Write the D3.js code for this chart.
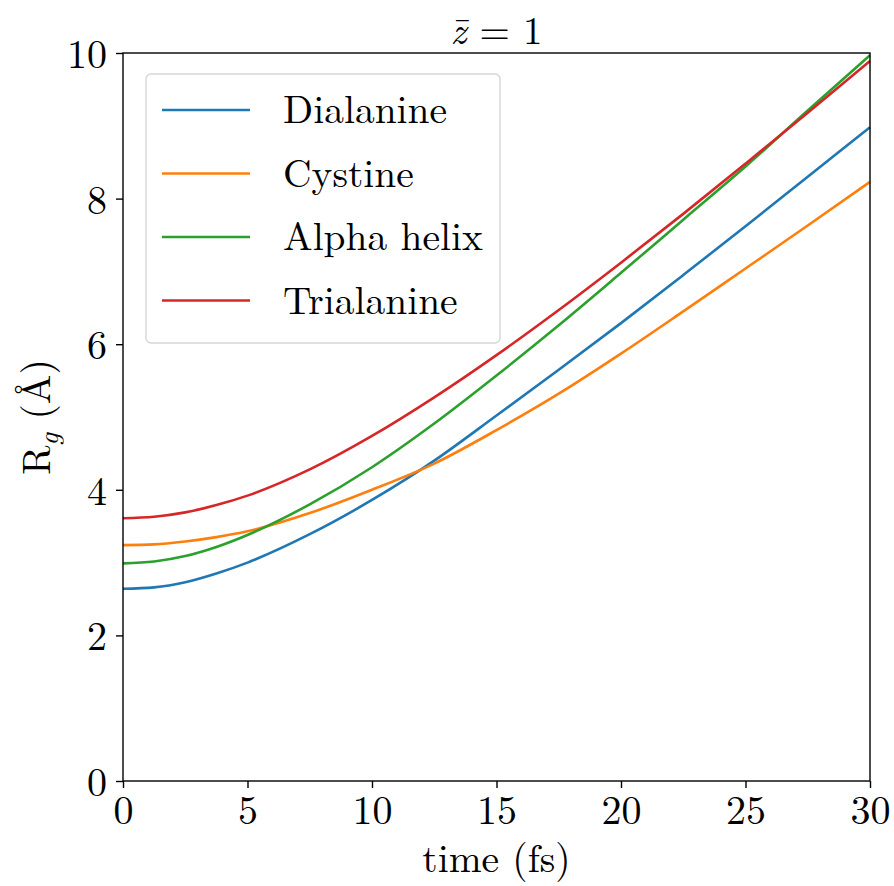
<!DOCTYPE html>
<html>
<head>
<meta charset="utf-8">
<script src="https://cdn.jsdelivr.net/npm/d3@7"></script>
<style>
  body { margin: 0; background: #fff; }
</style>
</head>
<body>
<svg id="chart" width="894" height="886"></svg>
<script>
// Values (time in fs, Rg in Angstrom)
const times = [0, 1.25, 2.5, 3.75, 5, 7.5, 10, 12.5, 15, 17.5, 20, 22.5, 25, 27.5, 30];
const dialanine = [2.64, 2.66, 2.73, 2.85, 3.0, 3.39, 3.86, 4.40, 5.02, 5.65, 6.29, 6.95, 7.62, 8.30, 8.98];
const cystine = [3.24, 3.25, 3.29, 3.35, 3.43, 3.68, 4.0, 4.36, 4.82, 5.32, 5.87, 6.45, 7.04, 7.63, 8.23];
const alphaHelix = [2.99, 3.015, 3.09, 3.215, 3.38, 3.80, 4.31, 4.91, 5.57, 6.26, 6.98, 7.71, 8.44, 9.21, 9.97];
const trialanine = [3.61, 3.63, 3.69, 3.79, 3.92, 4.28, 4.74, 5.27, 5.85, 6.47, 7.12, 7.79, 8.48, 9.18, 9.89];

const seriesNames = ["Dialanine", "Cystine", "Alpha helix", "Trialanine"];
const seriesColors = ["#1f77b4", "#ff7f0e", "#2ca02c", "#d62728"];
const seriesValues = [dialanine, cystine, alphaHelix, trialanine];

const xTicks = [0, 5, 10, 15, 20, 25, 30];
const yTicks = [0, 2, 4, 6, 8, 10];

// Layout
const margin = { left: 123, right: 24, top: 53, bottom: 105 };
const width = 894, height = 886;
const FONT_SIZE = 40;
const LEGEND_SIZE = 39.5;
const SERIF = '"Latin Modern Roman", "CMU Serif", "Liberation Serif", "DejaVu Serif", serif';

const svg = d3.select("#chart").style("font-family", SERIF);

const x = d3.scaleLinear().domain([0, 30]).range([margin.left, width - margin.right]);
const y = d3.scaleLinear().domain([0, 10]).range([height - margin.bottom, margin.top]);

// Lines
const line = d3.line()
  .x((d) => x(d[0]))
  .y((d) => y(d[1]))
  .curve(d3.curveMonotoneX);

seriesValues.forEach((vals, i) => {
  svg.append("path")
    .datum(times.map((t, j) => [t, vals[j]]))
    .attr("d", line)
    .attr("fill", "none")
    .attr("stroke", seriesColors[i])
    .attr("stroke-width", 2.6);
});

// Axes
const xAxis = svg.append("g")
  .attr("transform", `translate(0,${y(0)})`)
  .call(d3.axisBottom(x).tickValues(xTicks).tickSize(7).tickPadding(7));
const yAxis = svg.append("g")
  .attr("transform", `translate(${x(0)},0)`)
  .call(d3.axisLeft(y).tickValues(yTicks).tickSize(7).tickPadding(9));

[xAxis, yAxis].forEach((g) => {
  g.attr("font-family", null).attr("font-size", null);
  g.select(".domain").remove();
  g.selectAll(".tick line").attr("stroke", "#000").attr("stroke-width", 1.4);
  g.selectAll(".tick text")
    .style("font-family", SERIF)
    .style("font-size", FONT_SIZE + "px")
    .attr("fill", "#000");
});
yAxis.selectAll(".tick text").attr("dy", "0.36em");
xAxis.selectAll(".tick text").attr("dy", "0.72em");

// Frame
svg.append("rect")
  .attr("x", x(0))
  .attr("y", y(10))
  .attr("width", x(30) - x(0))
  .attr("height", y(0) - y(10))
  .attr("fill", "none")
  .attr("stroke", "#000")
  .attr("stroke-width", 1.4);

// Title
const title = svg.append("text")
  .attr("x", (x(0) + x(30)) / 2)
  .attr("y", 44)
  .attr("text-anchor", "middle")
  .style("font-family", SERIF)
  .style("font-size", "39px");
title.append("tspan").attr("font-style", "italic").text("z\u0304");
title.append("tspan").text(" = 1");

// Axis labels
svg.append("text")
  .attr("x", (x(0) + x(30)) / 2)
  .attr("y", 872)
  .attr("text-anchor", "middle")
  .style("font-family", SERIF)
  .style("font-size", LEGEND_SIZE + "px")
  .text("time (fs)");

const yLabel = svg.append("text")
  .attr("transform", `translate(50,${(y(0) + y(10)) / 2}) rotate(-90)`)
  .attr("text-anchor", "middle")
  .style("font-family", SERIF)
  .style("font-size", LEGEND_SIZE + "px");
yLabel.append("tspan").text("R");
yLabel.append("tspan").attr("font-style", "italic").attr("font-size", "28px").attr("dy", "8").text("g");
yLabel.append("tspan").attr("dy", "-8").text(" (Å)");

// Legend
const legend = svg.append("g");
legend.append("rect")
  .attr("x", 146)
  .attr("y", 74)
  .attr("width", 354)
  .attr("height", 269)
  .attr("rx", 5)
  .attr("fill", "#fff")
  .attr("fill-opacity", 0.8)
  .attr("stroke", "#d6d6d6")
  .attr("stroke-width", 1.4);

seriesNames.forEach((name, i) => {
  const ly = 110 + i * 63.5;
  legend.append("line")
    .attr("x1", 162).attr("x2", 250)
    .attr("y1", ly).attr("y2", ly)
    .attr("stroke", seriesColors[i])
    .attr("stroke-width", 2.6);
  legend.append("text")
    .attr("x", 283)
    .attr("y", ly + 13)
    .style("font-family", SERIF)
    .style("font-size", LEGEND_SIZE + "px")
    .text(name);
});
</script>
</body>
</html>
